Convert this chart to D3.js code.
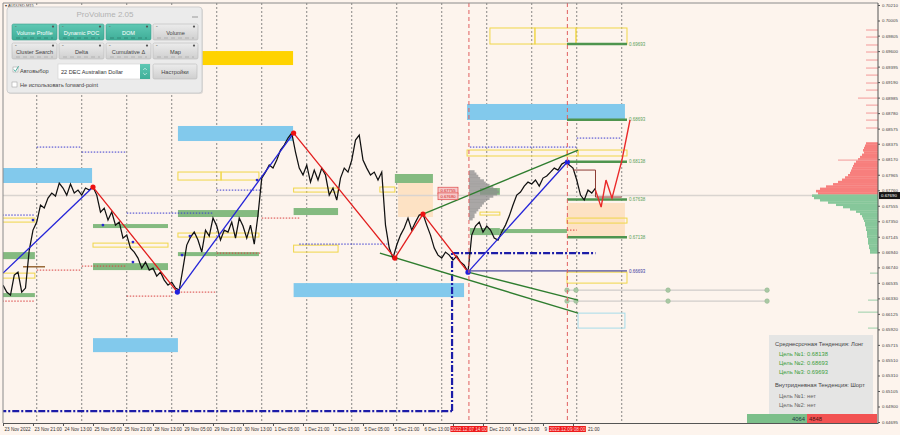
<!DOCTYPE html>
<html>
<head>
<meta charset="utf-8">
<script src="https://cdn.jsdelivr.net/npm/d3@7"></script>
<style>
body { margin: 0; background: #fdf4ed; overflow: hidden; }
svg { display: block; font-family: "Liberation Sans", Arial, sans-serif; }
</style>
</head>
<body>
<script>
const width = 900;
const height = 435;
const plotLeft = 3, plotRight = 878, plotTop = 3, plotBottom = 423;

// closes, one every 2 trading hours (AUDUSD M15)
const closes = [0.66505,0.66413,0.66373,0.66638,0.66677,0.66413,0.66466,0.66969,0.67233,0.67339,
  0.67564,0.67524,0.67656,0.67723,0.67683,0.67855,0.67789,0.67696,0.67842,0.67723,
  0.67762,0.67696,0.67789,0.67762,0.67802,0.67696,0.67471,0.67524,0.67365,0.67471,
  0.67299,0.67339,0.67127,0.67167,0.66995,0.66942,0.66863,0.66730,0.66810,0.66704,
  0.66730,0.66625,0.66677,0.66572,0.66505,0.66545,0.66466,0.66439,0.66730,0.67035,
  0.67140,0.67207,0.67101,0.66942,0.67233,0.67154,0.67392,0.67286,0.67101,0.67233,
  0.67207,0.67339,0.67127,0.67392,0.67286,0.67127,0.67299,0.67048,0.67432,0.67921,
  0.68000,0.68093,0.68053,0.68159,0.68292,0.68358,0.68450,0.68516,0.68265,0.68053,
  0.67961,0.68093,0.67868,0.68027,0.67895,0.68053,0.67961,0.67696,0.67789,0.67630,
  0.67921,0.68053,0.68000,0.68159,0.68424,0.68490,0.68159,0.68053,0.67961,0.68000,
  0.67895,0.68000,0.67299,0.66995,0.66863,0.67035,0.67167,0.67260,0.67392,0.67233,
  0.67339,0.67432,0.67445,0.67299,0.67167,0.66995,0.66902,0.66863,0.66942,0.66902,
  0.66836,0.66889,0.66810,0.66770,0.66677,0.67167,0.67286,0.67339,0.67207,0.67286,
  0.67233,0.67127,0.67101,0.67207,0.67299,0.67418,0.67564,0.67696,0.67736,0.67815,
  0.67868,0.67842,0.67895,0.67815,0.67921,0.67948,0.68000,0.68053,0.68027,0.68106,
  0.68133,0.68093,0.68053,0.67895,0.67696,0.67630,0.67762,0.67723,0.67789];

const timeLabels = ["23 Nov 2022","23 Nov 21:00","24 Nov 13:00","25 Nov 05:00","25 Nov 21:00",
  "28 Nov 13:00","29 Nov 05:00","29 Nov 21:00","30 Nov 13:00","1 Dec 05:00","1 Dec 21:00",
  "2 Dec 13:00","5 Dec 05:00","5 Dec 21:00","6 Dec 13:00","7 Dec 05:00","7 Dec 21:00",
  "8 Dec 13:00","9 Dec 05:00","9 Dec 21:00"];
// what is left visible of labels that sit under the red time tags: [text, shift]
const labelTrim = {15: ["", 0], 16: ["Dec 21:00", 5], 18: ["9", 0], 19: ["21:00", 13.5]};
const priceTicks = [0.70210,0.70005,0.69805,0.69600,0.69395,0.69190,0.68985,0.68780,0.68575,
  0.68375,0.68170,0.67965,0.67760,0.67555,0.67350,0.67145,0.66940,0.66740,0.66535,0.66330,
  0.66125,0.65920,0.65715,0.65510,0.65310,0.65105,0.64900,0.64695];
const dayStarts = [18,42,66,90,114,138,162,186,210,234,258,282,306,330];
const lastPrice = 0.67690;

// zigzag swings [hour, price]
const zigzag = [[0,0.66664],[48,0.67802],[93,0.66413],[155,0.68516],[209,0.66863],[224,0.67445],[248,0.66677],[301,0.68133]];
const zigColors = ["#2424d8","#e21c1c","#2424d8","#e21c1c","#e21c1c","#e21c1c","#2424d8"];
const pivotColors = [null,"#ee1111","#2020dd","#ee1111","#ee1111","#ee1111","#2020dd","#2020dd"];
const minorPivots = [[16,0.67365],[53.3,0.67299],[69.3,0.67074],[69.3,0.66810],[95.5,0.66902],[99.7,0.67154],[135.5,0.67895]];
const forecast = [[316,0.67762],[319,0.67537],[321.6,0.67895],[324.8,0.67656],[330.1,0.68159],[334.4,0.68689]];
const brownPath = [[304,0.68027],[316,0.68027],[316,0.67670],[330,0.67670]];

// zones [hourFrom, hourTo, priceTop, priceBottom]
const blueZones = [[-2,47.5,0.68054,0.67856],[93.3,154.7,0.68610,0.68411],[155,245.9,0.66532,0.66347],
  [48,93.3,0.65804,0.65619],[247.5,331.7,0.68901,0.68689]];
const goldZones = [[93.3,154.7,0.69601,0.69416]];
const greenZones = [[-2,17,0.66942,0.66849],[-2,17,0.66400,0.66347],[48,88,0.67313,0.67260],
  [48,88,0.66796,0.66704],[93.3,136.5,0.67498,0.67406],[93.3,136.5,0.66942,0.66889],
  [155,178.7,0.67525,0.67432],[209,229.3,0.67975,0.67856],[249,265,0.67260,0.67167],
  [254.4,265,0.67789,0.67696],[265,300.8,0.67247,0.67194]];
const peachZones = [[210.7,229.3,0.67856,0.67406],[300.8,331.7,0.67591,0.67141]];
const yellowBoxes = [[-2,17,0.66664,0.66598],[-2,17,0.67392,0.67339],[48,88,0.67061,0.67008],
  [93.3,136.5,0.67194,0.67141],[93.3,116.3,0.68001,0.67895],[116.3,136.5,0.68001,0.67895],
  [155,178.7,0.67789,0.67736],[155,178.7,0.67034,0.66942],[201,209,0.67803,0.67736],
  [254.4,265,0.67471,0.67432],[247.5,300.8,0.68292,0.68213],[300.8,306.7,0.68292,0.68213],
  [306.7,332.8,0.68292,0.68213],[259.7,283.7,0.69906,0.69694],[283.7,305.6,0.69906,0.69694],
  [305.6,332.8,0.69906,0.69694],[300.8,332.8,0.67392,0.67326],[300.8,332.8,0.66677,0.66532]];
const cyanBoxes = [[306.7,331.7,0.66135,0.65937]];

// dotted levels [hourFrom, hourTo, price]
const blueDotted = [[18,42,0.68331],[42,66,0.68265],[66,112,0.67458],[114,138,0.67762],[-2,17,0.67432],
  [158,205,0.67048],[249,306,0.68331],[306,330,0.68450]];
const redDotted = [[-2,17,0.66294],[18,42,0.66704],[42,66,0.66757],[66,90,0.66360],[90,114,0.66413],
  [138,158,0.67392],[114,138,0.66929],[300.8,306,0.67233]];
const brownLevels = [[10.7,22.4,0.66748]];

const navyDashDot = [[[-2,0.64839],[239.5,0.64839]],[[239.5,0.64839],[239.5,0.66929]],[[239.5,0.66929],[316,0.66929]]];
const trendLines = [[[224,0.67445],[306.7,0.68292]],[[201,0.66929],[306.7,0.66135]],[[248,0.66677],[306.7,0.66307]]];

const targetLevels = [0.69693,0.68693,0.68138,0.67638,0.67138];
const targetFrom = 300.8, targetTo = 332.8;
const navyTarget = [247.5, 332.8, 0.66693];

const circleRows = [0.66439, 0.66294];
const circleHours = [300.8, 305.6, 354.7, 407.5];

const crossHours = [248.5, 301];
const crossLabels = ["2022.12.07 14:00", "2022.12.09 08:00"];

// market profile on the right edge
const profileSellPrices = [0.6838,0.6835,0.6832,0.6829,0.6826,0.6823,0.6820,0.6817,0.6814,0.6811,0.6808,0.6805,
  0.6802,0.6799,0.6796,0.6793,0.6790,0.6787,0.6784,0.6781,0.6778,0.6775,0.6772];
const profileSellVol = [12,13,14,15,14,16,18,20,22,24,25,26,27,28,30,33,36,40,45,52,58,62,60];
const profileBuyPrices = [0.6769,0.6766,0.6763,0.6760,0.6757,0.6754,0.6751,0.6748,0.6745,0.6742,0.6739,0.6736,
  0.6733,0.6730,0.6727,0.6724,0.6721,0.6718,0.6715,0.6712,0.6709,0.6706,0.6703,0.6700,0.6697,0.6694];
const profileBuyVol = [66,64,58,50,42,35,28,22,18,16,15,14,13,13,12,12,11,11,11,10,10,10,9,9,8,8];
const profileTickPrices = [0.69879,0.69786,0.69681,0.69588,0.69482,0.69376,0.69283,0.69178,0.69085,0.68979,
  0.68886,0.68781,0.68688,0.68583,0.68159];
const profileTickVol = [12,12,12,12,12,12,12,12,12,20,12,12,12,12,40];
const greenTickPrices = [0.66664,0.66307,0.66148,0.65937];
const greenTickVol = [8,10,20,10];

// small gray profile at 7 Dec
const miniPrices = [0.6801,0.6798,0.6795,0.6792,0.6789,0.6786,0.6783,0.6780,0.6777,0.6774,0.6771,
  0.6768,0.6765,0.6762,0.6759,0.6756,0.6753,0.6750,0.6747,0.6744,0.6741,0.6738];
const miniVol = [3,4,5,6,8,9,11,13,15,16,15,13,11,9,8,7,6,5,4,3,3,2];
const miniStart = 248.5;

const tagPrices = [0.67755, 0.67680];

const trendTexts = ["Среднесрочная Тенденция: Лонг","Цель №1: 0.68138","Цель №2: 0.68693","Цель №3: 0.69693",
  "Внутридневная Тенденция: Шорт","Цель №1: нет","Цель №2: нет"];
const deltaValues = [4064, 4848];

const x = d3.scaleLinear().domain([0, 466.67]).range([plotLeft, plotRight]);
const y = d3.scaleLinear().domain([0.70210, 0.64695]).range([5, 422]);
const line = d3.line().x(d => x(d[0])).y(d => y(d[1]));

const svg = d3.select("body").append("svg")
  .attr("width", width)
  .attr("height", height)
  .attr("viewBox", [0, 0, width, height]);

svg.append("rect").attr("width", width).attr("height", height).attr("fill", "#fdf4ed");

svg.append("defs").append("clipPath").attr("id", "plot")
  .append("rect")
  .attr("x", plotLeft).attr("y", plotTop)
  .attr("width", plotRight - plotLeft).attr("height", plotBottom - plotTop);

const g = svg.append("g").attr("clip-path", "url(#plot)");

// day separators
g.append("g").selectAll("line").data(dayStarts).join("line")
  .attr("x1", d => x(d)).attr("x2", d => x(d))
  .attr("y1", plotTop).attr("y2", plotBottom)
  .attr("stroke", "#6a6a6a").attr("stroke-width", 0.8).attr("stroke-dasharray", "2,2");

function zones(data, fill, stroke, opacity) {
  g.append("g").selectAll("rect").data(data).join("rect")
    .attr("x", d => x(d[0]))
    .attr("width", d => x(d[1]) - x(d[0]))
    .attr("y", d => y(d[2]))
    .attr("height", d => y(d[3]) - y(d[2]))
    .attr("fill", fill)
    .attr("fill-opacity", opacity || 1)
    .attr("stroke", stroke || "none")
    .attr("stroke-width", 1);
}

zones(peachZones, "#fde2c4");
zones(blueZones, "#82c9ec");
zones(goldZones, "#ffd300");
zones(greenZones, "#84ba80");
zones(yellowBoxes, "none", "#f0d648");
zones(cyanBoxes, "none", "#a6dcea");

function levels(data, color, dash, w) {
  g.append("g").selectAll("line").data(data).join("line")
    .attr("x1", d => x(d[0])).attr("x2", d => x(d[1]))
    .attr("y1", d => y(d[2])).attr("y2", d => y(d[2]))
    .attr("stroke", color).attr("stroke-width", w || 1)
    .attr("stroke-dasharray", dash);
}
levels(blueDotted, "#3a3ad0", "1.5,1.5");
levels(redDotted, "#d84040", "1.5,1.5");
levels(brownLevels, "#9a6a3a", null, 1.5);

// current price line
g.append("line")
  .attr("x1", plotLeft).attr("x2", plotRight)
  .attr("y1", y(lastPrice)).attr("y2", y(lastPrice))
  .attr("stroke", "#d9d4d0").attr("stroke-width", 1.5);

// right profile
const step = y(0.6800) - y(0.6803);
g.append("g").selectAll("rect").data(profileSellPrices).join("rect")
  .attr("x", (d, i) => plotRight - profileSellVol[i])
  .attr("width", (d, i) => profileSellVol[i])
  .attr("y", d => y(d) - step / 2)
  .attr("height", step + 0.3)
  .attr("fill", "#f77f7d");
g.append("g").selectAll("rect").data(profileBuyPrices).join("rect")
  .attr("x", (d, i) => plotRight - profileBuyVol[i])
  .attr("width", (d, i) => profileBuyVol[i])
  .attr("y", d => y(d) - step / 2)
  .attr("height", step + 0.3)
  .attr("fill", "#86c79a");
g.append("g").selectAll("line").data(profileTickPrices).join("line")
  .attr("x1", (d, i) => plotRight - profileTickVol[i]).attr("x2", plotRight)
  .attr("y1", d => y(d)).attr("y2", d => y(d))
  .attr("stroke", "#f39a9a").attr("stroke-width", 1);
g.append("g").selectAll("line").data(greenTickPrices).join("line")
  .attr("x1", (d, i) => plotRight - greenTickVol[i]).attr("x2", plotRight)
  .attr("y1", d => y(d)).attr("y2", d => y(d))
  .attr("stroke", "#9bcfaa").attr("stroke-width", 1);

// gray profile
g.append("g").selectAll("rect").data(miniPrices).join("rect")
  .attr("x", x(miniStart))
  .attr("width", (d, i) => x(miniStart + miniVol[i]) - x(miniStart))
  .attr("y", d => y(d) - step / 2)
  .attr("height", step + 0.3)
  .attr("fill", "#8e8e8e").attr("fill-opacity", 0.75);

// navy dash-dot
g.append("g").selectAll("path").data(navyDashDot).join("path")
  .attr("d", line).attr("fill", "none")
  .attr("stroke", "#1c1ca8").attr("stroke-width", 2.2)
  .attr("stroke-dasharray", "7,2,2,2");

// target levels
g.append("g").selectAll("line").data(targetLevels).join("line")
  .attr("x1", x(targetFrom)).attr("x2", x(targetTo))
  .attr("y1", d => y(d)).attr("y2", d => y(d))
  .attr("stroke", "#4e944e").attr("stroke-width", 2.5);
g.append("line")
  .attr("x1", x(navyTarget[0])).attr("x2", x(navyTarget[1]))
  .attr("y1", y(navyTarget[2])).attr("y2", y(navyTarget[2]))
  .attr("stroke", "#22228a").attr("stroke-width", 1);
g.append("g").selectAll("text").data(targetLevels).join("text")
  .attr("x", x(targetTo) + 2).attr("y", d => y(d) + 1.6)
  .attr("font-size", 4.5).attr("fill", "#5aa05a")
  .text(d => d.toFixed(5));
g.append("text")
  .attr("x", x(navyTarget[1]) + 2).attr("y", y(navyTarget[2]) + 1.6)
  .attr("font-size", 4.5).attr("fill", "#3a3aa0")
  .text(navyTarget[2].toFixed(5));

// gray rows with circles
g.append("g").selectAll("line").data(circleRows).join("line")
  .attr("x1", x(circleHours[0])).attr("x2", x(circleHours[circleHours.length - 1]))
  .attr("y1", d => y(d)).attr("y2", d => y(d))
  .attr("stroke", "#b8b8b8").attr("stroke-width", 0.8);
circleRows.forEach(p => {
  g.append("g").selectAll("circle").data(circleHours).join("circle")
    .attr("cx", d => x(d)).attr("cy", y(p)).attr("r", 2.3)
    .attr("fill", "#a9c9a4").attr("stroke", "#93b58e").attr("stroke-width", 0.5);
});

// trend channel
g.append("g").selectAll("path").data(trendLines).join("path")
  .attr("d", line).attr("fill", "none")
  .attr("stroke", "#2f7d2f").attr("stroke-width", 1.4);

// price
g.append("path")
  .datum(closes.map((c, i) => [i * 2, c]))
  .attr("d", line).attr("fill", "none")
  .attr("stroke", "#111").attr("stroke-width", 1.25);

// zigzag
g.append("g").selectAll("line").data(zigzag.slice(1)).join("line")
  .attr("x1", (d, i) => x(zigzag[i][0])).attr("y1", (d, i) => y(zigzag[i][1]))
  .attr("x2", d => x(d[0])).attr("y2", d => y(d[1]))
  .attr("stroke", (d, i) => zigColors[i]).attr("stroke-width", 1.3);
g.append("g").selectAll("circle").data(zigzag.slice(1)).join("circle")
  .attr("cx", d => x(d[0])).attr("cy", d => y(d[1])).attr("r", 2.6)
  .attr("fill", (d, i) => pivotColors[i + 1]);
g.append("g").selectAll("circle").data(minorPivots).join("circle")
  .attr("cx", d => x(d[0])).attr("cy", d => y(d[1])).attr("r", 1.4)
  .attr("fill", "#2a2ad0");

g.append("path").datum(brownPath).attr("d", line).attr("fill", "none")
  .attr("stroke", "#8c3b33").attr("stroke-width", 1);
g.append("path").datum(forecast).attr("d", line).attr("fill", "none")
  .attr("stroke", "#ea2a2a").attr("stroke-width", 1.4);

// price tags near 7 Dec
g.append("g").selectAll("g").data(tagPrices).join("g")
  .each(function (d) {
    const t = d3.select(this);
    t.append("rect").attr("x", x(232)).attr("y", y(d) - 3.4)
      .attr("width", 20).attr("height", 6.8)
      .attr("fill", "#f6c8c8").attr("stroke", "#e04848").attr("stroke-width", 0.7);
    t.append("text").attr("x", x(232) + 10).attr("y", y(d) + 1.5)
      .attr("text-anchor", "middle").attr("font-size", 4.2).attr("fill", "#d02020")
      .text(d.toFixed(5));
  });

// crosshair lines
g.append("g").selectAll("line").data(crossHours).join("line")
  .attr("x1", d => x(d)).attr("x2", d => x(d))
  .attr("y1", plotTop).attr("y2", plotBottom)
  .attr("stroke", "#e06060").attr("stroke-width", 1).attr("stroke-dasharray", "4,3");

// frame
svg.append("line").attr("x1", plotLeft).attr("x2", plotLeft).attr("y1", plotTop).attr("y2", plotBottom)
  .attr("stroke", "#8a8a8a");
svg.append("line").attr("x1", plotLeft).attr("x2", plotRight).attr("y1", plotTop).attr("y2", plotTop)
  .attr("stroke", "#8a8a8a");

// axes
const xAxis = svg.append("g")
  .attr("transform", `translate(0,${plotBottom})`)
  .call(d3.axisBottom(x)
    .tickValues(timeLabels.map((d, i) => i * 16))
    .tickFormat((d, i) => labelTrim[i] ? labelTrim[i][0] : timeLabels[i])
    .tickSize(3).tickSizeOuter(0));
xAxis.select(".domain").attr("stroke", "#555");
xAxis.selectAll("line").attr("stroke", "#555");
xAxis.selectAll("text")
  .attr("text-anchor", "start")
  .attr("x", (d, i) => 1 + (labelTrim[i] ? labelTrim[i][1] : 0))
  .attr("y", 4.5)
  .attr("font-size", 4.6).attr("fill", "#333").attr("font-family", "Liberation Sans");

const yAxis = svg.append("g")
  .attr("transform", `translate(${plotRight},0)`)
  .call(d3.axisRight(y)
    .tickValues(priceTicks)
    .tickFormat(d3.format(".5f"))
    .tickSize(2).tickSizeOuter(0));
yAxis.select(".domain").attr("stroke", "#555").attr("d", `M0,${plotTop}V${plotBottom}`);
yAxis.selectAll("line").attr("stroke", "#555");
yAxis.selectAll("text").attr("x", 4).attr("font-size", 4.4).attr("fill", "#444")
  .attr("font-family", "Liberation Sans");

// crosshair time tags
const tags = svg.append("g").selectAll("g").data(crossHours).join("g");
tags.append("rect")
  .attr("x", d => x(d) - 18.5).attr("y", 426)
  .attr("width", 37).attr("height", 6)
  .attr("fill", "#ee1a1a");
tags.append("text")
  .attr("x", d => x(d)).attr("y", 430.6)
  .attr("text-anchor", "middle").attr("font-size", 4.6).attr("fill", "#ffd8d8")
  .text((d, i) => crossLabels[i]);

// last price tag
svg.append("rect").attr("x", plotRight + 1).attr("y", y(lastPrice) - 3.5)
  .attr("width", 21).attr("height", 7).attr("fill", "#151515");
svg.append("text").attr("x", plotRight + 3).attr("y", y(lastPrice) + 1.6)
  .attr("font-size", 4.4).attr("fill", "#fff").text(lastPrice.toFixed(5));

svg.append("text").attr("x", 5).attr("y", 6.5).attr("font-size", 4).attr("fill", "#333")
  .text("▾ AUDUSD,M15");

// trend info box
svg.append("rect").attr("x", 769).attr("y", 335).attr("width", 104).attr("height", 79)
  .attr("fill", "#e5e5e4");
svg.append("g").selectAll("text").data(trendTexts).join("text")
  .attr("x", (d, i) => (i === 0 || i === 4) ? 775 : 779)
  .attr("y", (d, i) => [346, 356, 365, 374, 387, 398, 407][i])
  .attr("font-size", 5.8)
  .attr("fill", (d, i) => (i >= 1 && i <= 3) ? "#3c9e3c" : (i >= 5 ? "#666" : "#444"))
  .text(d => d);

// delta bar
svg.append("rect").attr("x", 747).attr("y", 414).attr("width", 60).attr("height", 9).attr("fill", "#7cbf8a");
svg.append("rect").attr("x", 807).attr("y", 414).attr("width", 70).attr("height", 9).attr("fill", "#f25252");
svg.append("text").attr("x", 805).attr("y", 420.6).attr("text-anchor", "end")
  .attr("font-size", 5.8).attr("fill", "#234").text(deltaValues[0]);
svg.append("text").attr("x", 809).attr("y", 420.6)
  .attr("font-size", 5.8).attr("fill", "#4a1010").text(deltaValues[1]);

// ProVolume panel
const buttonsRow1 = ["Volume Profile", "Dynamic POC", "DOM", "Volume"];
const buttonsRow2 = ["Cluster Search", "Delta", "Cumulative Δ", "Map"];
const activeRow1 = [true, true, true, false];

const defs = svg.select("defs");
const gradTeal = defs.append("linearGradient").attr("id", "teal").attr("x1", 0).attr("x2", 0).attr("y1", 0).attr("y2", 1);
gradTeal.append("stop").attr("offset", 0).attr("stop-color", "#5fc8b4");
gradTeal.append("stop").attr("offset", 1).attr("stop-color", "#3fae98");
const gradGray = defs.append("linearGradient").attr("id", "gray").attr("x1", 0).attr("x2", 0).attr("y1", 0).attr("y2", 1);
gradGray.append("stop").attr("offset", 0).attr("stop-color", "#ececec");
gradGray.append("stop").attr("offset", 1).attr("stop-color", "#cfcfcf");

const panel = svg.append("g");
panel.append("rect").attr("x", 8).attr("y", 8).attr("width", 195).attr("height", 86).attr("rx", 3)
  .attr("fill", "#bdbdbd").attr("opacity", 0.5);
panel.append("rect").attr("x", 7).attr("y", 7).attr("width", 195).attr("height", 86).attr("rx", 3)
  .attr("fill", "#ebebeb").attr("stroke", "#cfcfcf");
panel.append("text").attr("x", 105).attr("y", 17).attr("text-anchor", "middle")
  .attr("font-size", 8).attr("fill", "#b2b2b2").text("ProVolume 2.05");
panel.append("line").attr("x1", 192).attr("x2", 198).attr("y1", 17).attr("y2", 17)
  .attr("stroke", "#999").attr("stroke-width", 1);

function buttons(labels, yTop, active) {
  const b = panel.append("g").selectAll("g").data(labels).join("g")
    .attr("transform", (d, i) => `translate(${12 + i * 47},${yTop})`);
  b.append("rect").attr("width", 45).attr("height", 16).attr("rx", 1.5)
    .attr("fill", (d, i) => active[i] ? "url(#teal)" : "url(#gray)")
    .attr("stroke", (d, i) => active[i] ? "#3a9f8b" : "#bbb").attr("stroke-width", 0.6);
  b.append("circle").attr("cx", 41).attr("cy", 2.6).attr("r", 1.1).attr("fill", "#555");
  b.append("text").attr("x", 3).attr("y", 3.4).attr("font-size", 3).attr("fill", "#666").text("≡");
  b.append("line").attr("x1", 4).attr("x2", 41).attr("y1", 14).attr("y2", 14)
    .attr("stroke", (d, i) => active[i] ? "#2f7f70" : "#a9a9a9").attr("stroke-width", 0.8)
    .attr("stroke-dasharray", "4,3");
  b.append("text").attr("x", 22.5).attr("y", 10.5).attr("text-anchor", "middle")
    .attr("font-size", 5.6).attr("fill", (d, i) => active[i] ? "#fff" : "#444")
    .text(d => d);
}
buttons(buttonsRow1, 24, activeRow1);
buttons(buttonsRow2, 43, [false, false, false, false]);

panel.append("rect").attr("x", 13).attr("y", 67).attr("width", 5).attr("height", 5)
  .attr("fill", "#fff").attr("stroke", "#999").attr("stroke-width", 0.5);
panel.append("path").attr("d", "M13.8,69.5 L15.4,71.4 L18.6,66.2").attr("fill", "none")
  .attr("stroke", "#3aa896").attr("stroke-width", 0.9);
panel.append("text").attr("x", 20).attr("y", 73).attr("font-size", 5.6).attr("fill", "#444").text("Автовыбор");
panel.append("rect").attr("x", 58).attr("y", 64).attr("width", 92).attr("height", 15)
  .attr("fill", "#fff").attr("stroke", "#d0d0d0").attr("stroke-width", 0.6);
panel.append("text").attr("x", 61).attr("y", 73.5).attr("font-size", 5.6).attr("fill", "#333")
  .text("22 DEC Australian Dollar");
panel.append("rect").attr("x", 140).attr("y", 64).attr("width", 10).attr("height", 15).attr("fill", "url(#teal)");
panel.append("path").attr("d", "M143.2,70 L145,68.2 L146.8,70 M143.2,73 L145,74.8 L146.8,73")
  .attr("fill", "none").attr("stroke", "#fff").attr("stroke-width", 0.6);
panel.append("rect").attr("x", 153).attr("y", 64).attr("width", 44).attr("height", 15).attr("rx", 1.5)
  .attr("fill", "url(#gray)").attr("stroke", "#bbb").attr("stroke-width", 0.6);
panel.append("text").attr("x", 175).attr("y", 73.5).attr("text-anchor", "middle")
  .attr("font-size", 5.6).attr("fill", "#444").text("Настройки");
panel.append("rect").attr("x", 12).attr("y", 82).attr("width", 5).attr("height", 5)
  .attr("fill", "#fff").attr("stroke", "#999").attr("stroke-width", 0.5);
panel.append("text").attr("x", 20).attr("y", 87).attr("font-size", 5.6).attr("fill", "#444")
  .text("Не использовать forward-point");
</script>
</body>
</html>
